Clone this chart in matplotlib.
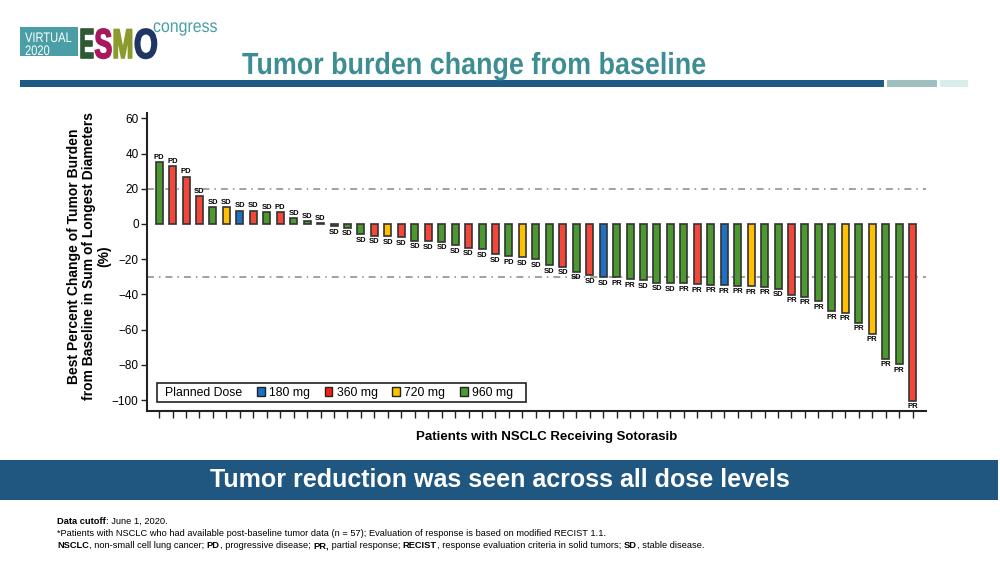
import matplotlib
matplotlib.use('Agg')
import matplotlib.pyplot as plt
from matplotlib.patches import Rectangle, Patch
from matplotlib.patheffects import AbstractPathEffect
from matplotlib.transforms import Affine2D
from matplotlib.offsetbox import DrawingArea
import numpy as np

# ---------------- data ----------------
values = [35.0, 32.7, 26.7, 15.7, 9.4, 9.4, 7.4, 7.4, 6.6, 6.6, 3.2, 1.5, 0.3,
          -1.3, -2.1, -5.9, -6.6, -7.0, -7.6, -9.5, -9.7, -10.2, -12.1, -13.6,
          -14.4, -17.2, -18.4, -18.9, -19.9, -23.3, -24.4, -27.0, -29.0, -30.3,
          -30.3, -31.4, -32.0, -33.3, -33.7, -33.7, -34.3, -34.5, -34.8, -35.2,
          -35.4, -35.6, -36.7, -40.3, -41.4, -43.9, -49.6, -50.3, -56.0, -62.4,
          -76.4, -79.7, -100.4]
doses = ['960 mg', '360 mg', '360 mg', '360 mg', '960 mg', '720 mg', '180 mg',
         '360 mg', '960 mg', '360 mg', '960 mg', '960 mg', '960 mg', '960 mg',
         '960 mg', '960 mg', '360 mg', '720 mg', '360 mg', '960 mg', '360 mg',
         '960 mg', '960 mg', '360 mg', '960 mg', '360 mg', '960 mg', '720 mg',
         '960 mg', '960 mg', '360 mg', '960 mg', '360 mg', '180 mg', '960 mg',
         '960 mg', '960 mg', '960 mg', '960 mg', '960 mg', '360 mg', '960 mg',
         '180 mg', '960 mg', '720 mg', '960 mg', '960 mg', '360 mg', '960 mg',
         '960 mg', '960 mg', '720 mg', '960 mg', '720 mg', '960 mg', '960 mg',
         '360 mg']
responses = ['PD', 'PD', 'PD', 'SD', 'SD', 'SD', 'SD', 'SD', 'SD', 'PD', 'SD',
             'SD', 'SD', 'SD', 'SD', 'SD', 'SD', 'SD', 'SD', 'SD', 'SD', 'SD',
             'SD', 'SD', 'SD', 'SD', 'PD', 'SD', 'SD', 'SD', 'SD', 'SD', 'SD',
             'SD', 'PR', 'PR', 'SD', 'SD', 'SD', 'PR', 'PR', 'PR', 'PR', 'PR',
             'PR', 'PR', 'SD', 'PR', 'PR', 'PR', 'PR', 'PR', 'PR', 'PR', 'PR',
             'PR', 'PR']
dose_levels = ['180 mg', '360 mg', '720 mg', '960 mg']
yticks = [60, 40, 20, 0, -20, -40, -60, -80, -100]
ref_lines = [20, -30]

title = 'Tumor burden change from baseline'
banner = 'Tumor reduction was seen across all dose levels'
ylabel = 'Best Percent Change of Tumor Burden\nfrom Baseline in Sum of Longest Diameters\n(%)'
xlabel = 'Patients with NSCLC Receiving Sotorasib'
legend_title = 'Planned Dose'
foot1 = [('Data cutoff', True), (': June 1, 2020.', False)]
foot2 = [('*Patients with NSCLC who had available post-baseline tumor data (n = 57); '
          'Evaluation of response is based on modified RECIST 1.1.', False)]
foot3 = [('NSCLC', True), (', non-small cell lung cancer; ', False), ('PD', True),
         (', progressive disease; ', False), ('PR,', True), (' partial response; ', False),
         ('RECIST', True), (', response evaluation criteria in solid tumors; ', False),
         ('SD', True), (', stable disease.', False)]

# ---------------- styles ----------------
bar_colors = {'180 mg': '#1f6fc4', '360 mg': '#f4473a', '720 mg': '#ffc000', '960 mg': '#4c9a2f'}
legend_colors = {'180 mg': '#1a6fc9', '360 mg': '#ff1a1a', '720 mg': '#ffc000', '960 mg': '#4a9a35'}
TEAL = '#3d8d95'
NAVY = '#1f5780'

plt.rcParams['font.family'] = ['Liberation Sans', 'DejaVu Sans']
plt.rcParams['lines.scale_dashes'] = False

FIG_H = 562


class Stretch(AbstractPathEffect):
    """Draw text scaled about a fixed display point (optionally with a stroke)."""
    def __init__(self, sx, sy, x0, y0, stroke=0.0):
        super().__init__()
        self.sx, self.sy, self.x0, self.y0, self.stroke = sx, sy, x0, y0, stroke

    def draw_path(self, renderer, gc, tpath, affine, rgbFace=None):
        aff = affine + Affine2D().translate(-self.x0, -self.y0) \
            .scale(self.sx, self.sy).translate(self.x0, self.y0)
        if self.stroke > 0 and rgbFace is not None:
            gc0 = renderer.new_gc()
            gc0.copy_properties(gc)
            gc0.set_linewidth(self.stroke)
            gc0.set_foreground(rgbFace)
            renderer.draw_path(gc0, tpath, aff, rgbFace)
            gc0.restore()
        else:
            renderer.draw_path(gc, tpath, aff, rgbFace)


fig = plt.figure(figsize=(10, 5.62), dpi=100)
bg = fig.add_axes([0, 0, 1, 1], zorder=0)
bg.set_xlim(0, 1000)
bg.set_ylim(FIG_H, 0)
bg.axis('off')


def stext(x, y, s, sx, sy=1.0, stroke=0.0, **kw):
    t = bg.text(x, y, s, **kw)
    t.set_path_effects([Stretch(sx, sy, x, FIG_H - y, stroke)])
    return t


# ---------------- header ----------------
bg.add_patch(Rectangle((20, 27), 58, 29, color='#4a9ea6', lw=0))
stext(25, 42, 'VIRTUAL', 0.8, color='white', fontsize=10, va='baseline')
stext(25, 55, '2020', 0.8, color='white', fontsize=10, va='baseline')
for ch, xx, col, fs, sy in [('E', 80, '#2d5a32', 15.1, 2.0),
                            ('S', 94.5, '#a8185c', 19.0, 1.58),
                            ('M', 112.5, '#8c9c2c', 18.0, 1.66),
                            ('O', 134, '#1f3563', 22.0, 1.36)]:
    stext(xx, 58, ch, 1.0, sy, stroke=1.2, color=col, fontsize=fs,
          fontweight='bold', va='baseline')
stext(153, 32, 'congress', 0.88, color='#4a9ea6', fontsize=13, va='baseline')

stext(474, 74, title, 0.88, color=TEAL, fontsize=22, fontweight='bold',
      ha='center', va='baseline')
bg.add_patch(Rectangle((20, 80), 864, 6.5, color='#1f5a87', lw=0))
bg.add_patch(Rectangle((887, 80), 50, 6.5, color='#9fbfc0', lw=0))
bg.add_patch(Rectangle((940, 80), 28, 6.5, color='#d8eeeb', lw=0))

# ---------------- chart ----------------
ax = fig.add_axes([0.147, 0.2692, 0.779, 0.5297], zorder=1)
ax.patch.set_alpha(0)
x = np.arange(len(values))
ax.bar(x, values, width=0.52, color=[bar_colors[d] for d in doses],
       edgecolor='#333333', linewidth=1.2, zorder=3)
for v in ref_lines:
    ax.axhline(v, color='#9a9a9a', lw=1.3, linestyle=(0, (5.0, 3.6, 1.1, 3.6)), zorder=2)

for xi, v, r in zip(x, values, responses):
    if v >= 0:
        ax.annotate(r, (xi, v), xytext=(0, 1.2), textcoords='offset points',
                    ha='center', va='bottom', fontsize=5.5, fontweight='bold', zorder=4)
    else:
        ax.annotate(r, (xi, v), xytext=(0, -1.8), textcoords='offset points',
                    ha='center', va='top', fontsize=5.5, fontweight='bold', zorder=4)

ax.set_xlim(-0.9, 57.0)
ax.set_ylim(-106, 63)
ax.set_xticks(x)
ax.set_xticklabels([])
ax.set_yticks(yticks)
ax.set_yticklabels([f'{t}'.replace('-', '\u2212') for t in yticks])
ax.tick_params(axis='x', direction='out', length=5, width=1.0, color='#222222')
ax.tick_params(axis='y', direction='out', length=4, width=1.0, labelsize=8.5, pad=2,
               color='#222222')
for s in ['top', 'right']:
    ax.spines[s].set_visible(False)
for s in ['left', 'bottom']:
    ax.spines[s].set_linewidth(1.5)
    ax.spines[s].set_color('#222222')

handles = [Patch(facecolor='none', edgecolor='none')] + \
          [Patch(facecolor=legend_colors[d], edgecolor='#222222', linewidth=1.0) for d in dose_levels]
labels = [legend_title] + dose_levels
leg = ax.legend(handles, labels, ncol=5, loc='lower left', bbox_to_anchor=(0.0132, 0.028),
                borderaxespad=0, frameon=True, fancybox=False, edgecolor='#222222',
                framealpha=1, fontsize=8.8, handlelength=0.63, handleheight=0.82,
                handletextpad=0.35, columnspacing=1.2, borderpad=0.3)
leg.get_frame().set_linewidth(1.2)
leg.set_zorder(5)
try:
    cols = leg._legend_handle_box.get_children()
    item0 = cols[0].get_children()[0]
    item0.get_children()[0].width = 3
    item0.sep = 0
    last = cols[-1].get_children()[0]
    last.get_children().append(DrawingArea(4, 1))
except Exception:
    pass

bg.text(89, 256, ylabel, rotation=90, ha='center', va='center', multialignment='center',
        fontsize=10, fontweight='bold', linespacing=1.1)
bg.text(547, 437, xlabel, ha='center', va='center', fontsize=9.5, fontweight='bold')

# ---------------- banner ----------------
bg.add_patch(Rectangle((0, 460), 998, 39.5, color=NAVY, lw=0))
bg.text(500, 480, banner, color='white', ha='center', va='center', fontsize=18,
        fontweight='bold')

# ---------------- footnotes ----------------
renderer = fig.canvas.get_renderer()


def seg_width(txt, bold, size):
    w = []
    for s in (txt + '|', '|'):
        t = bg.text(0, 0, s, fontsize=size, fontweight='bold' if bold else 'normal')
        w.append(t.get_window_extent(renderer=renderer).width)
        t.remove()
    return w[0] - w[1]


def rich(x0, y0, parts, size=6.7):
    xx = x0
    for txt, bold in parts:
        bg.text(xx, y0, txt, fontsize=size, fontweight='bold' if bold else 'normal',
                va='baseline', ha='left')
        xx += seg_width(txt, bold, size)


rich(57, 524, foot1)
rich(57, 536, foot2)
rich(57, 548, foot3)

fig.savefig('out.png', dpi=100)
